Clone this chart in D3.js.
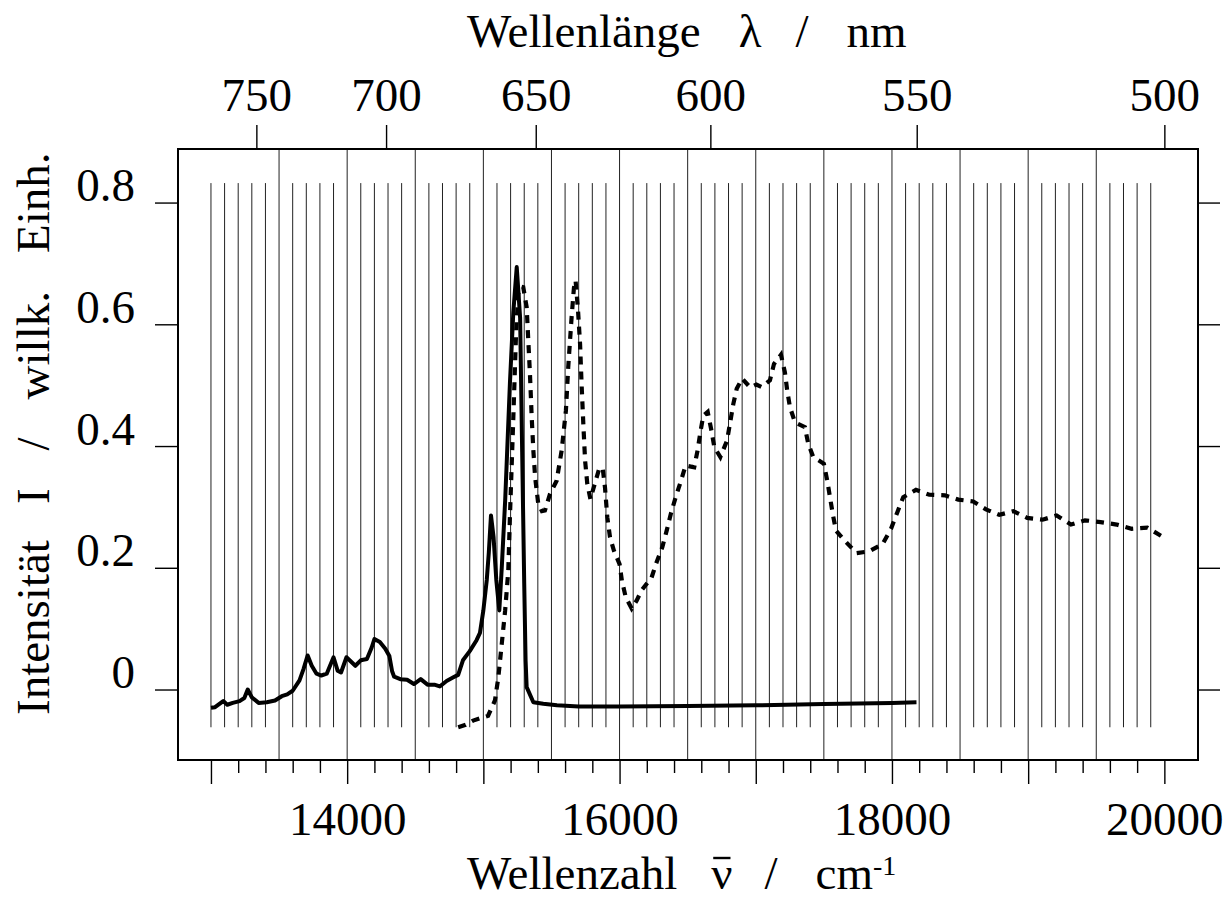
<!DOCTYPE html>
<html>
<head>
<meta charset="utf-8">
<script src="https://cdn.jsdelivr.net/npm/d3@7"></script>
<style>
  html, body { margin: 0; padding: 0; background: #fff; }
  svg { display: block; }
  text { font-family: "Liberation Serif", "Times New Roman", serif; fill: #000; }
</style>
</head>
<body>
<svg id="chart" width="1227" height="901"></svg>
<script>
// ---------- data ----------
const solidNu = [13000,13030,13090,13120,13160,13210,13245,13270,13300,13350,13410,13470,13520,13560,13600,13650,13680,13710,13740,13775,13810,13850,13900,13930,13955,13995,14060,14100,14145,14180,14200,14240,14280,14310,14330,14345,14390,14440,14490,14540,14590,14640,14680,14730,14780,14815,14850,14900,14950,14975,15000,15025,15040,15056,15075,15095,15117,15135,15160,15195,15220,15245,15270,15285,15300,15310,15318,15367,15440,15540,15700,16000,16500,17000,17500,18000,18180];
const solidI  = [-0.030,-0.029,-0.019,-0.025,-0.022,-0.019,-0.014,0.000,-0.013,-0.022,-0.021,-0.018,-0.011,-0.008,-0.002,0.015,0.034,0.056,0.039,0.026,0.023,0.026,0.053,0.031,0.028,0.053,0.039,0.048,0.050,0.069,0.083,0.078,0.067,0.055,0.030,0.021,0.017,0.016,0.009,0.017,0.008,0.008,0.005,0.014,0.020,0.024,0.048,0.063,0.081,0.093,0.130,0.180,0.225,0.286,0.250,0.180,0.130,0.200,0.310,0.503,0.620,0.694,0.610,0.390,0.174,0.048,0.004,-0.021,-0.0235,-0.026,-0.028,-0.028,-0.027,-0.026,-0.024,-0.022,-0.021];

const dashNu = [14815,14870,14925,14980,15035,15085,15110,15135,15160,15183,15195,15220,15240,15256,15275,15293,15318,15330,15342,15355,15367,15380,15403,15430,15452,15489,15538,15575,15606,15623,15648,15665,15677,15695,15710,15722,15735,15747,15763,15786,15818,15851,15876,15893,15910,15930,15959,16000,16017,16045,16089,16125,16162,16235,16272,16314,16346,16377,16412,16451,16485,16548,16573,16595,16615,16647,16675,16696,16740,16789,16810,16835,16860,16900,16960,17005,17043,17104,17134,17185,17214,17231,17251,17288,17361,17385,17422,17500,17525,17545,17565,17589,17655,17741,17833,17931,17993,18039,18083,18176,18274,18389,18487,18597,18690,18788,18891,18993,19106,19209,19314,19417,19532,19650,19760,19875,19980];
const dashI  = [-0.062,-0.058,-0.051,-0.047,-0.043,-0.018,0.020,0.075,0.130,0.195,0.283,0.447,0.585,0.650,0.662,0.661,0.628,0.573,0.519,0.447,0.393,0.349,0.305,0.293,0.294,0.321,0.343,0.393,0.458,0.529,0.612,0.660,0.672,0.623,0.568,0.497,0.431,0.376,0.338,0.313,0.338,0.363,0.364,0.332,0.283,0.250,0.228,0.206,0.179,0.152,0.133,0.146,0.163,0.184,0.209,0.234,0.261,0.289,0.316,0.343,0.368,0.365,0.393,0.425,0.450,0.456,0.425,0.398,0.382,0.409,0.436,0.469,0.494,0.511,0.496,0.501,0.497,0.508,0.535,0.550,0.521,0.491,0.464,0.439,0.431,0.404,0.382,0.371,0.343,0.316,0.289,0.261,0.244,0.224,0.227,0.239,0.264,0.291,0.316,0.328,0.320,0.319,0.312,0.309,0.296,0.287,0.293,0.282,0.279,0.286,0.271,0.278,0.275,0.271,0.264,0.266,0.252];

const xMajorTicks = [13000,14000,15000,16000,17000,18000,19000,20000];
const xMinorTicks = [13200,13400,13600,13800,14200,14400,14600,14800,15200,15400,15600,15800,16200,16400,16600,16800,17200,17400,17600,17800,18200,18400,18600,18800,19200,19400,19600,19800];
const xLabeled = [14000,16000,18000,20000];
const wavelengthTicks = [750,700,650,600,550,500];
const yTicks = [0,0.2,0.4,0.6,0.8];
const yTickLabels = ["0","0.2","0.4","0.6","0.8"];
const fullGrid = [13500,14000,14500,15000,15500,16000,16500,17000,17500,18000,18500,19000,19500];
const shortGridStart = 13000, shortGridEnd = 19900, shortGridStep = 100;
const shortGridTop = 0.832, shortGridBottom = -0.062;

const xDomain = [12758, 20247];
const yDomain = [-0.1158, 0.888];

// ---------- layout ----------
const M = {l:178, t:149, r:1198, b:760};
const FS = 47;
const svg = d3.select("#chart");
svg.append("rect").attr("width",1227).attr("height",901).attr("fill","#fff");

const x = d3.scaleLinear().domain(xDomain).range([M.l, M.r]);
const y = d3.scaleLinear().domain(yDomain).range([M.b, M.t]);

// grid lines
const shortGrid = d3.range(shortGridStart, shortGridEnd + 1, shortGridStep).filter(v => !fullGrid.includes(v));
const grid = svg.append("g").attr("stroke","#222").attr("stroke-width",1);
grid.selectAll("line.s").data(shortGrid).join("line").attr("class","s")
  .attr("x1", d => x(d)).attr("x2", d => x(d))
  .attr("y1", y(shortGridTop)).attr("y2", y(shortGridBottom));
grid.selectAll("line.f").data(fullGrid).join("line").attr("class","f")
  .attr("x1", d => x(d)).attr("x2", d => x(d))
  .attr("y1", M.t).attr("y2", M.b);

// curves
const line = d3.line().x(d => x(d[0])).y(d => y(d[1])).curve(d3.curveLinear);
svg.append("path").datum(dashNu.map((v,i)=>[v,dashI[i]]))
  .attr("d", line).attr("fill","none").attr("stroke","#000")
  .attr("stroke-width",4.2).attr("stroke-dasharray","8,7");
svg.append("path").datum(solidNu.map((v,i)=>[v,solidI[i]]))
  .attr("d", line).attr("fill","none").attr("stroke","#000")
  .attr("stroke-width",4).attr("stroke-linejoin","round");

// frame
svg.append("rect").attr("x",M.l).attr("y",M.t).attr("width",M.r-M.l).attr("height",M.b-M.t)
  .attr("fill","none").attr("stroke","#000").attr("stroke-width",2);

function styleAxis(g){
  g.select(".domain").remove();
  g.selectAll(".tick line").attr("stroke","#000").attr("stroke-width",1.4);
  g.selectAll("text").attr("font-size",FS).attr("font-family",'"Liberation Serif","Times New Roman",serif').attr("fill","#000");
}

// bottom axis
const gbMinor = svg.append("g").attr("transform",`translate(0,${M.b})`)
  .call(d3.axisBottom(x).tickValues(xMinorTicks).tickSize(13).tickFormat(""));
styleAxis(gbMinor);
const gbMajor = svg.append("g").attr("transform",`translate(0,${M.b})`)
  .call(d3.axisBottom(x).tickValues(xMajorTicks).tickSize(24).tickFormat(d => xLabeled.includes(d) ? String(d) : ""));
styleAxis(gbMajor);
gbMajor.selectAll("text").attr("y",75).attr("dy",0);

// top axis (wavelength)
const gt = svg.append("g").attr("transform",`translate(0,${M.t})`)
  .call(d3.axisTop(x).tickValues(wavelengthTicks.map(l => 1e7/l)).tickSize(24)
    .tickFormat(d => String(Math.round(1e7/d))));
styleAxis(gt);
gt.selectAll("text").attr("y",-38).attr("dy",0);

// left axis
const gl = svg.append("g").attr("transform",`translate(${M.l},0)`)
  .call(d3.axisLeft(y).tickValues(yTicks).tickSize(23).tickFormat((d,i) => yTickLabels[i]));
styleAxis(gl);
gl.selectAll("text").attr("x",-43).attr("dy",0).attr("y",-2);

// right axis
const gr = svg.append("g").attr("transform",`translate(${M.r},0)`)
  .call(d3.axisRight(y).tickValues(yTicks).tickSize(22).tickFormat(""));
styleAxis(gr);

// titles
const tTop = svg.append("text").attr("x",467).attr("y",47).attr("font-size",FS);
tTop.append("tspan").text("Wellenlänge");
tTop.append("tspan").attr("dx",38).text("λ");
tTop.append("tspan").attr("dx",34).text("/");
tTop.append("tspan").attr("dx",38).text("nm");

const botBase = 889;
const tBot = svg.append("text").attr("x",467).attr("y",botBase).attr("font-size",FS);
tBot.append("tspan").text("Wellenzahl");
tBot.append("tspan").attr("dx",34).text("ν");
tBot.append("tspan").attr("dx",32).text("/");
tBot.append("tspan").attr("dx",38).text("cm");
tBot.append("tspan").attr("font-size",28).attr("dy",-14).text("-1");
// overbar on nu
const ext = tBot.node().getExtentOfChar(10);
svg.append("line")
  .attr("x1", ext.x + 2).attr("x2", ext.x + ext.width - 2)
  .attr("y1", botBase - 31).attr("y2", botBase - 31)
  .attr("stroke","#000").attr("stroke-width",2.4);

const tLeft = svg.append("text").attr("transform","translate(49,715) rotate(-90)").attr("font-size",FS);
tLeft.append("tspan").text("Intensität");
tLeft.append("tspan").attr("dx",36).text("I");
tLeft.append("tspan").attr("dx",38).text("/");
tLeft.append("tspan").attr("dx",38).text("willk.");
tLeft.append("tspan").attr("dx",38).text("Einh.");
</script>
</body>
</html>
